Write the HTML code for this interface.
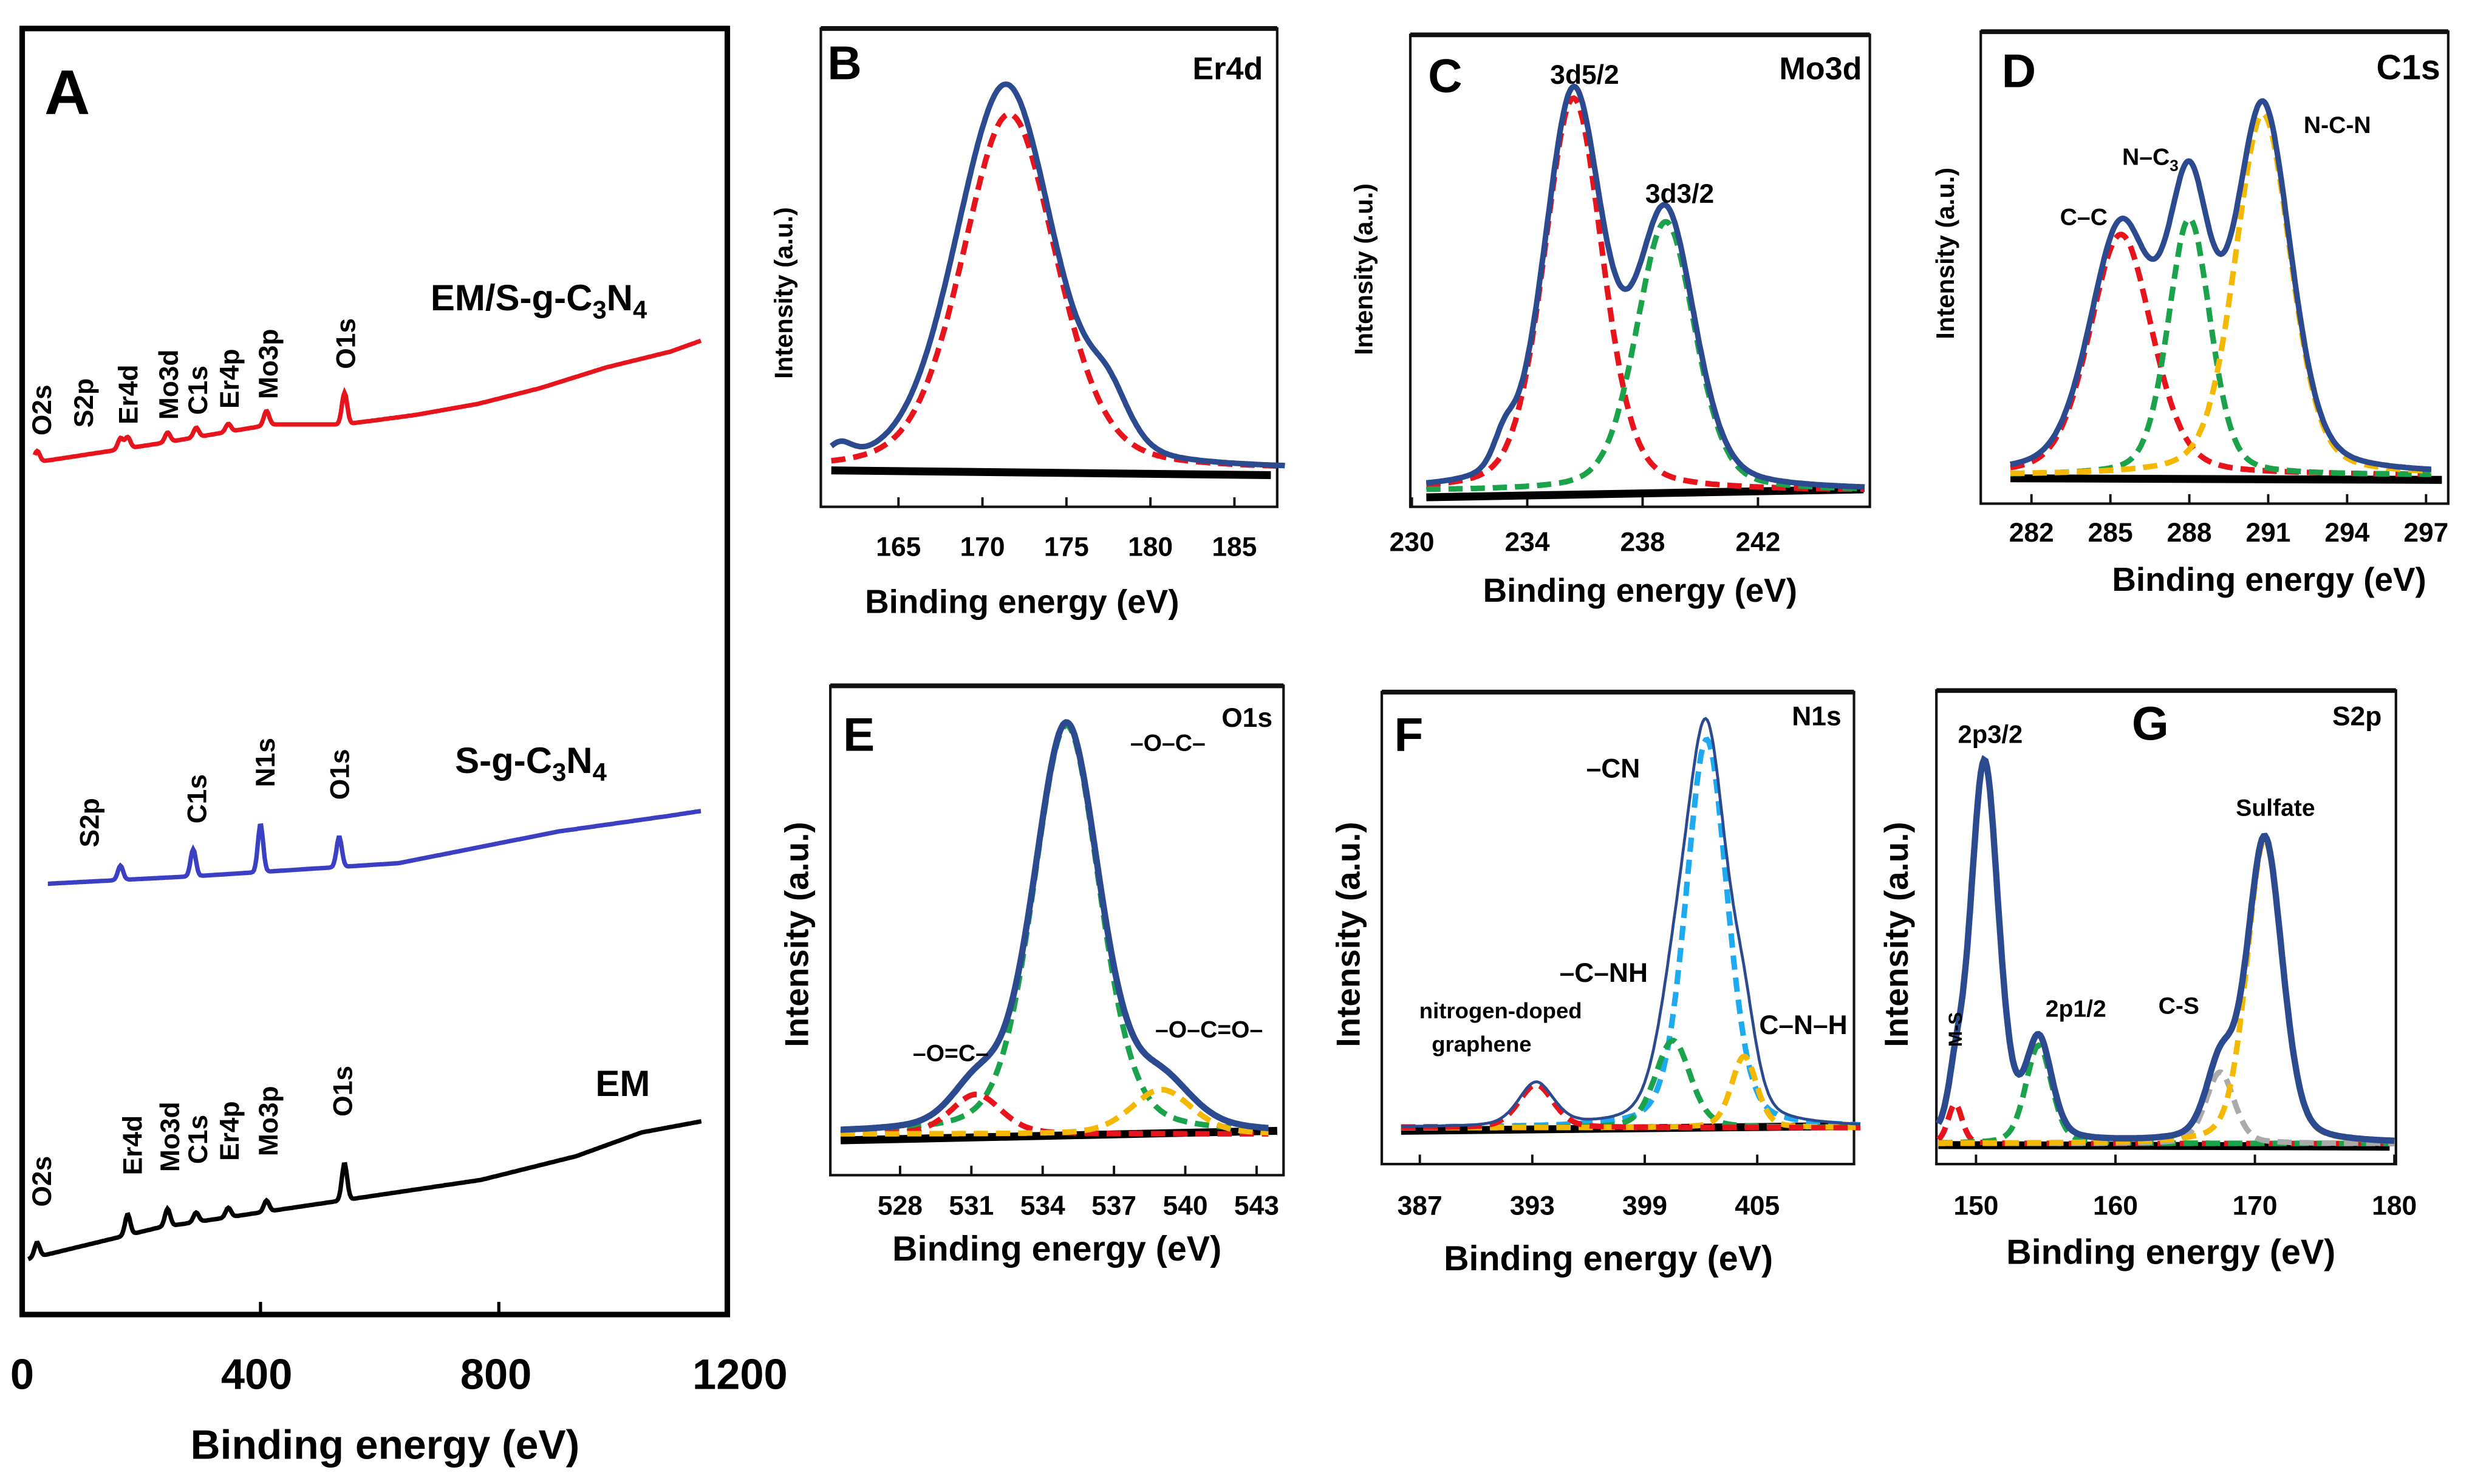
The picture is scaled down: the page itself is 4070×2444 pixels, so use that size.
<!DOCTYPE html>
<html><head><meta charset="utf-8"><style>
html,body{margin:0;padding:0;background:#fff;}
svg{display:block;}
text{font-family:"Liberation Sans",Arial,sans-serif;font-weight:bold;fill:#000;}
</style></head><body>
<svg id="fig" xmlns="http://www.w3.org/2000/svg" width="4070" height="2444" viewBox="0 0 1560 937" preserveAspectRatio="none">
<rect x="0" y="0" width="1560" height="937" fill="#fff"/>
<g>
<rect x="14" y="18" width="445" height="812" fill="none" stroke="#000" stroke-width="3.5"/>
<text x="28" y="72" font-size="40">A</text>
<text x="14" y="877" font-size="27" text-anchor="middle">0</text>
<text x="162" y="877" font-size="27" text-anchor="middle">400</text>
<text x="313" y="877" font-size="27" text-anchor="middle">800</text>
<text x="467" y="877" font-size="27" text-anchor="middle">1200</text>
<text x="243" y="921" font-size="26" text-anchor="middle">Binding energy (eV)</text>
<text x="340" y="196" font-size="23" text-anchor="middle">EM/S-g-C<tspan font-size="16" dy="5">3</tspan><tspan dy="-5">N</tspan><tspan font-size="16" dy="5">4</tspan></text>
<text x="335" y="488" font-size="23" text-anchor="middle">S-g-C<tspan font-size="16" dy="5">3</tspan><tspan dy="-5">N</tspan><tspan font-size="16" dy="5">4</tspan></text>
<text x="393" y="692" font-size="23" text-anchor="middle">EM</text>
</g>
<g id="gA"></g>
<g id="gB"></g><g id="gC"></g><g id="gD"></g><g id="gE"></g><g id="gF"></g><g id="gG"></g>
</svg>
<script>
// ---------- Survey data (panel A) ----------
const redBaseE = [21, 230, 418, 540, 660, 765, 870, 980, 1088, 1140];
const redBaseV = [538, 550, 562, 562, 568, 575, 585, 598, 608, 615];
const redPeakE = [25, 165, 177, 244, 292, 346, 410, 541];
const redPeakH = [7, 7, 7, 6, 6, 5, 9, 20];
const redLabels = ["O2s","S2p","Er4d","Mo3d","C1s","Er4p","Mo3p","O1s"];
const redLabelE = [30, 100, 175, 243, 292, 345, 410, 540];
const redLabelBottom = [275, 270, 268, 265, 262, 258, 252, 233];

const blueBaseE = [43, 300, 632, 900, 1088, 1140];
const blueBaseV = [272, 277, 285, 305, 315, 318];
const bluePeakE = [165, 287, 400, 532];
const bluePeakH = [9, 17, 30, 19];
const blueLabels = ["S2p","C1s","N1s","O1s"];
const blueLabelE = [110, 290, 405, 530];
const blueLabelBottom = [535, 520, 497, 505];

const blackBaseE = [10, 230, 500, 770, 930, 1040, 1140];
const blackBaseV = [35, 55, 70, 85, 100, 115, 122];
const blackPeakE = [25, 177, 244, 292, 346, 410, 541];
const blackPeakH = [9, 13, 11, 6, 6, 7, 23];
const blackLabels = ["O2s","Er4d","Mo3d","C1s","Er4p","Mo3p","O1s"];
const blackLabelE = [30, 182, 245, 292, 345, 410, 535];
const blackLabelBottom = [762, 742, 740, 735, 733, 730, 705];

const surveyTicks = [0, 400, 800];

// ---------- Panel B (Er4d) ----------
const bCenters = [171.6, 169.0, 161.5, 177.5];
const bHeights = [225, 30, 10, 30];
const bWidths = [6.6, 6.0, 1.8, 3.0];
const bColors = ["#e8141b", null, null, null];
const bTicks = [165, 170, 175, 180, 185];
// ---------- Panel C (Mo3d) ----------
const cCenters = [235.6, 238.8, 233.2];
const cHeights = [248, 170, 18];
const cWidths = [2.4, 2.4, 0.9];
const cColors = ["#e8141b", "#1aa34a", null];
const cTicks = [230, 234, 238, 242];
// ---------- Panel D (C1s) ----------
const dCenters = [285.4, 288.0, 290.8];
const dHeights = [152, 162, 228];
const dWidths = [2.8, 1.9, 2.5];
const dColors = ["#e8141b", "#1aa34a", "#f5b800"];
const dTicks = [282, 285, 288, 291, 294, 297];
// ---------- Panel E (O1s) ----------
const eCenters = [535.0, 531.2, 539.0];
const eHeights = [258, 25, 28];
const eWidths = [3.3, 2.5, 3.0];
const eColors = ["#1aa34a", "#e8141b", "#f5b800"];
const eTicks = [528, 531, 534, 537, 540, 543];
// ---------- Panel F (N1s) ----------
const fCenters = [402.3, 400.5, 404.3, 393.2];
const fHeights = [245, 55, 45, 27];
const fWidths = [2.6, 2.2, 1.6, 2.2];
const fColors = ["#1eaaf0", "#1aa34a", "#f5b800", "#e8141b"];
const fTicks = [387, 393, 399, 405];
// ---------- Panel G (S2p) ----------
const gCenters = [150.6, 148.5, 154.5, 167.5, 170.7];
const gHeights = [240, 25, 62, 45, 192];
const gWidths = [2.4, 1.2, 2.2, 2.4, 3.0];
const gColors = [null, "#e8141b", "#1aa34a", "#aaaaaa", "#f5b800"];
const gTicks = [150, 160, 170, 180];

const NS = "http://www.w3.org/2000/svg";
function mk(parent, tag, attrs) { const e = document.createElementNS(NS, tag); for (const k in attrs) e.setAttribute(k, attrs[k]); parent.appendChild(e); return e; }
function interp(xs, ys, x) {
  if (x <= xs[0]) return ys[0];
  for (let i = 1; i < xs.length; i++) if (x <= xs[i]) { const t = (x - xs[i-1]) / (xs[i] - xs[i-1]); return ys[i-1] + t * (ys[i] - ys[i-1]); }
  return ys[ys.length-1];
}
function pv(E, c, h, w) { const d = (E - c) / w; return h * (0.3 / (1 + 4*d*d) + 0.7 * Math.exp(-4*Math.LN2*d*d)); }

const gA = document.getElementById("gA");
const xA = E => 14 + E * 0.376;
const yA = v => 830 - v;
surveyTicks.forEach(t => {
  const tk = mk(gA, "line", {x1: xA(t), x2: xA(t), y1: 830, y2: 822, stroke: "#000", "stroke-width": 2});
  
  
});
function survey(baseE, baseV, pkE, pkH, labels, labE, labBot, color, name) {
  let d = "";
  for (let E = baseE[0]; E <= baseE[baseE.length-1]; E += 2) {
    let v = interp(baseE, baseV, E);
    for (let i = 0; i < pkE.length; i++) v += pkH[i] * Math.exp(-((E - pkE[i]) ** 2) / (2 * 20));
    d += (d ? "L" : "M") + xA(E).toFixed(1) + "," + yA(v).toFixed(1);
  }
  const p = mk(gA, "path", {d: d, fill: "none", stroke: color, "stroke-width": 2.8});
  
  
  labels.forEach((L, i) => {
    const x = xA(labE[i]) + 7, y = labBot[i];
    const t = mk(gA, "text", {x: x, y: y, "font-size": 17, transform: `rotate(-90 ${x} ${y})`});
    t.textContent = L;
    
    
  });
}
survey(redBaseE, redBaseV, redPeakE, redPeakH, redLabels, redLabelE, redLabelBottom, "#e8141b", "em-s-g-c3n4-spectrum");
survey(blueBaseE, blueBaseV, bluePeakE, bluePeakH, blueLabels, blueLabelE, blueLabelBottom, "#3b3fc4", "s-g-c3n4-spectrum");
survey(blackBaseE, blackBaseV, blackPeakE, blackPeakH, blackLabels, blackLabelE, blackLabelBottom, "#000", "em-spectrum");

function panel(cfg) {
  const g = document.getElementById(cfg.id);
  
  
  const [L, T, R, B] = cfg.box;
  mk(g, "rect", {x: L, y: T, width: R - L, height: B - T, fill: "none", stroke: "#111", "stroke-width": 1.6});
  mk(g, "line", {x1: L, x2: R, y1: T, y2: T, stroke: "#111", "stroke-width": 3});
  const xf = E => cfg.x0 + (E - cfg.e0) * cfg.k;
  const yf = v => cfg.base - v;
  cfg.ticks.forEach(t => {
    mk(g, "line", {x1: xf(t), x2: xf(t), y1: B, y2: B - 6, stroke: "#111", "stroke-width": 1.5});
    const tx = mk(g, "text", {x: xf(t), y: cfg.tickY, "font-size": 17, "text-anchor": "middle", "font-weight": "normal"});
    tx.textContent = t;
    
    
  });
  mk(g, "line", {x1: xf(cfg.eMin), x2: R - 4, y1: cfg.baseL, y2: cfg.baseR, stroke: "#000", "stroke-width": 5});
  const step = (cfg.eMax - cfg.eMin) / 300;
  cfg.centers.forEach((c, i) => {
    if (!cfg.colors[i]) return;
    let d = "";
    for (let E = cfg.eMin; E <= cfg.eMax + 1e-9; E += step) {
      d += (d ? "L" : "M") + xf(E).toFixed(1) + "," + yf(pv(E, c, cfg.heights[i], cfg.widths[i])).toFixed(1);
    }
    const p = mk(g, "path", {d: d, fill: "none", stroke: cfg.colors[i], "stroke-width": 3.5, "stroke-dasharray": "9,5"});
    
    
  });
  let d = "";
  for (let E = cfg.eMin; E <= cfg.eMax + 1e-9; E += step) {
    let v = 0;
    cfg.centers.forEach((c, i) => v += pv(E, c, cfg.heights[i], cfg.widths[i]));
    d += (d ? "L" : "M") + xf(E).toFixed(1) + "," + yf(v).toFixed(1);
  }
  const env = mk(g, "path", {d: d, fill: "none", stroke: "#2b4a8f", "stroke-width": cfg.envW || 3.5});
  
  
  cfg.texts.forEach(t => {
    const e = mk(g, "text", {x: t[0], y: t[1], "font-size": t[3], "text-anchor": t[4] || "middle"});
    if (t[5]) e.setAttribute("transform", `rotate(-90 ${t[0]} ${t[1]})`);
    e.innerHTML = t[2];
    
    
  });
}
const yl = "Intensity (a.u.)";
panel({id:"gB", name:"panel-b-er4d", box:[518,18,806,320], x0:567, e0:165, k:10.6, base:297, baseL:297, baseR:300,
  eMin:161, eMax:188, ticks:bTicks, tickY:351, centers:bCenters, heights:bHeights, widths:bWidths, colors:bColors,
  texts:[[533,50,"B",30,"middle",0,"panel-label"],[797,50,"Er4d",20,"end",0,"panel-title"],[645,387,"Binding energy (eV)",21,"middle",0,"x-axis-title"],[500,185,yl,16,"middle",1,"y-axis-title"]]});
panel({id:"gC", name:"panel-c-mo3d", box:[890,22,1180,320], x0:891, e0:230, k:18.2, base:310, baseL:314, baseR:309,
  eMin:230.5, eMax:245.7, ticks:cTicks, tickY:348, centers:cCenters, heights:cHeights, widths:cWidths, colors:cColors,
  texts:[[912,58,"C",30,"middle",0,"panel-label"],[1175,50,"Mo3d",20,"end",0,"panel-title"],[1000,53,"3d5/2",17,"middle",0,"peak-label"],[1060,128,"3d3/2",17,"middle",0,"peak-label"],[1035,380,"Binding energy (eV)",21,"middle",0,"x-axis-title"],[866,170,yl,16,"middle",1,"y-axis-title"]]});
panel({id:"gD", name:"panel-d-c1s", box:[1250,20,1545,318], x0:1282, e0:282, k:16.6, base:300, baseL:302, baseR:303,
  eMin:281.2, eMax:297.2, ticks:dTicks, tickY:342, centers:dCenters, heights:dHeights, widths:dWidths, colors:dColors,
  texts:[[1274,55,"D",30,"middle",0,"panel-label"],[1540,50,"C1s",22,"end",0,"panel-title"],[1315,142,"C–C",15,"middle",0,"peak-label"],[1357,104,"N–C<tspan font-size='10' dy='4'>3</tspan>",15,"middle",0,"peak-label"],[1475,84,"N-C-N",15,"middle",0,"peak-label"],[1432,373,"Binding energy (eV)",21,"middle",0,"x-axis-title"],[1233,160,yl,16,"middle",1,"y-axis-title"]]});
panel({id:"gE", name:"panel-e-o1s", box:[524,433,810,742], x0:568, e0:528, k:15, base:716, baseL:720, baseR:714,
  eMin:525.5, eMax:543.5, ticks:eTicks, tickY:767, centers:eCenters, heights:eHeights, widths:eWidths, colors:eColors, envW:4,
  texts:[[542,474,"E",30,"middle",0,"panel-label"],[803,459,"O1s",17,"end",0,"panel-title"],[737,474,"–O–C–",15,"middle",0,"peak-label"],[600,670,"–O=C–",15,"middle",0,"peak-label"],[763,655,"–O–C=O–",15,"middle",0,"peak-label"],[667,796,"Binding energy (eV)",22,"middle",0,"x-axis-title"],[510,590,yl,21,"middle",1,"y-axis-title"]]});
panel({id:"gF", name:"panel-f-n1s", box:[872,437,1170,735], x0:896, e0:387, k:11.83, base:712, baseL:714, baseR:711,
  eMin:386, eMax:410.5, ticks:fTicks, tickY:767, centers:fCenters, heights:fHeights, widths:fWidths, colors:fColors, envW:1.8,
  texts:[[889,474,"F",30,"middle",0,"panel-label"],[1162,458,"N1s",17,"end",0,"panel-title"],[1018,491,"–CN",17,"middle",0,"peak-label"],[1012,620,"–C–NH",17,"middle",0,"peak-label"],[947,643,"nitrogen-doped",14,"middle",0,"peak-label"],[935,664,"graphene",14,"middle",0,"peak-label"],[1138,653,"C–N–H",17,"middle",0,"peak-label"],[1015,802,"Binding energy (eV)",22,"middle",0,"x-axis-title"],[858,590,yl,21,"middle",1,"y-axis-title"]]});
panel({id:"gG", name:"panel-g-s2p", box:[1222,436,1512,735], x0:1247, e0:150, k:8.8, base:722, baseL:723, baseR:724,
  eMin:147.3, eMax:180, ticks:gTicks, tickY:767, centers:gCenters, heights:gHeights, widths:gWidths, colors:gColors, envW:4,
  texts:[[1357,467,"G",30,"middle",0,"panel-label"],[1503,458,"S2p",17,"end",0,"panel-title"],[1256,469,"2p3/2",16,"middle",0,"peak-label"],[1310,642,"2p1/2",15,"middle",0,"peak-label"],[1375,640,"C-S",15,"middle",0,"peak-label"],[1436,515,"Sulfate",15,"middle",0,"peak-label"],[1238,650,"M-S",12,"middle",1,"peak-label"],[1370,798,"Binding energy (eV)",22,"middle",0,"x-axis-title"],[1204,590,yl,21,"middle",1,"y-axis-title"]]});
</script>
</body></html>
